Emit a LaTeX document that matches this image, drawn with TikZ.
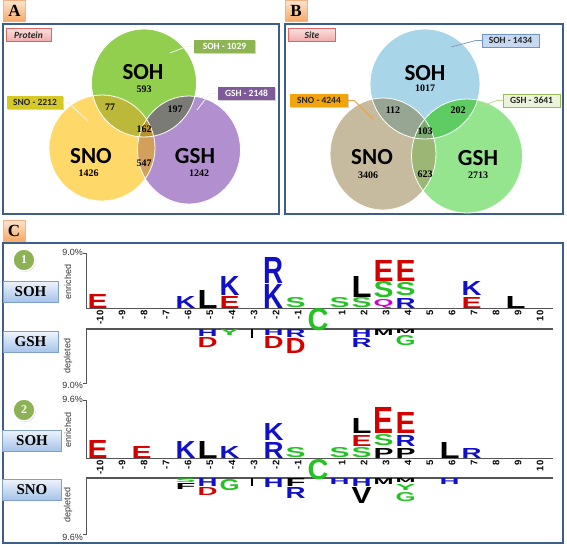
\documentclass[tikz,border=0pt]{standalone}
\usepackage{fontspec}
\usepackage{graphicx}
\setmainfont{Liberation Serif}
\setsansfont{Liberation Sans}
\newfontfamily\calfont{Carlito}
\usetikzlibrary{shadows}
% venn A
\definecolor{aS}{HTML}{92CF4E}
\definecolor{aN}{HTML}{FFD86A}
\definecolor{aG}{HTML}{B28FCE}
\definecolor{aSN}{HTML}{BCB93A}
\definecolor{aSG}{HTML}{7B7B76}
\definecolor{aNG}{HTML}{D2A05C}
\definecolor{aC}{HTML}{B8932C}
% venn B
\definecolor{bS}{HTML}{A9D5E8}
\definecolor{bN}{HTML}{C6BB9E}
\definecolor{bG}{HTML}{95E58F}
\definecolor{bSN}{HTML}{97A593}
\definecolor{bSG}{HTML}{5ECB63}
\definecolor{bNG}{HTML}{9CB676}
\definecolor{bC}{HTML}{7CAA6E}
% label boxes
\definecolor{aSl}{HTML}{8DB553}
\definecolor{aNl}{HTML}{D6C825}
\definecolor{aGl}{HTML}{7E5A9B}
\definecolor{bSl}{HTML}{C6D9F1}
\definecolor{bSd}{HTML}{6F94C6}
\definecolor{bNl}{HTML}{F2A40C}
\definecolor{bGl}{HTML}{EBF3DA}
\definecolor{bGd}{HTML}{9BBB59}
\definecolor{bSline}{HTML}{7F9FC0}
\definecolor{bNline}{HTML}{E8A040}
\definecolor{bGline}{HTML}{C0D890}
\definecolor{dk}{HTML}{262626}
\definecolor{pinkT}{HTML}{FAE0E0}
\definecolor{pinkB}{HTML}{F2AAAA}
\definecolor{pinkD}{HTML}{E06666}
% frames, labels
\definecolor{fr}{HTML}{3B5E8C}
\definecolor{plT}{HTML}{FDE5CF}
\definecolor{plB}{HTML}{F6A865}
\definecolor{plD}{HTML}{F4B183}
\definecolor{btT}{HTML}{EEF4FC}
\definecolor{btB}{HTML}{A6C3E8}
\definecolor{btD}{HTML}{7F9FCF}
\definecolor{bgr}{HTML}{8DB255}
\definecolor{axc}{HTML}{333333}
\definecolor{axl}{HTML}{555555}
% logo letters
\definecolor{lgR}{HTML}{D40000}
\definecolor{lgB}{HTML}{1010C8}
\definecolor{lgG}{HTML}{22C322}
\definecolor{lgK}{HTML}{000000}
\definecolor{lgM}{HTML}{D000D0}
\begin{document}
\begin{tikzpicture}[x=1pt,y=-1pt,
  frame/.style={draw=fr,line width=1.6pt},
  plabel/.style={draw=plD,line width=0.6pt,top color=plT,bottom color=plB,minimum width=22pt,minimum height=21pt,inner sep=0pt,font=\bfseries\fontsize{17}{17}\selectfont},
  vbig/.style={inner sep=0pt,font=\calfont\bfseries\fontsize{23}{23}\selectfont},
  vnum/.style={inner sep=0pt,font=\bfseries\fontsize{10}{10}\selectfont},
  vl/.style={minimum height=13pt,inner sep=0pt,font=\calfont\bfseries\fontsize{9.5}{9.5}\selectfont,drop shadow={shadow xshift=0.8pt,shadow yshift=-0.8pt,opacity=0.35}},
  pinkbox/.style={vl,draw=pinkD,line width=0.6pt,top color=pinkT,bottom color=pinkB,text=dk},
  conA/.style={draw=white!90!gray,line width=0.8pt},
  badge/.style={circle,fill=bgr,draw=white,line width=1.5pt,minimum size=22pt,inner sep=0pt,text=white,font=\bfseries\fontsize{12}{12}\selectfont,drop shadow={shadow xshift=0.8pt,shadow yshift=-1pt,opacity=0.4}},
  btn/.style={draw=btD,line width=0.6pt,top color=btT,bottom color=btB,minimum height=21pt,inner sep=0pt,font=\bfseries\fontsize{15}{15}\selectfont,drop shadow={shadow xshift=0.8pt,shadow yshift=-0.8pt,opacity=0.3}},
  axt/.style={inner sep=0pt,text=axc,font=\sffamily\fontsize{9}{9}\selectfont},
  numt/.style={inner sep=0pt,text=black,font=\sffamily\bfseries\fontsize{9.5}{9.5}\selectfont},
  axline/.style={draw=axl,line width=1.2pt},
  brk/.style={draw=axl,line width=0.8pt},
  lgl/.style={inner sep=0pt,outer sep=0pt,font=\sffamily\bfseries}]
\useasboundingbox[fill=white] (0,0) rectangle (567,547);

% panel labels
\node[plabel] (labA) at (14.5,11) {A};
\node[plabel] (labB) at (296,11) {B};
\node[plabel] (labC) at (14,230.5) {C};

% frames
\draw[frame] (3,24) rectangle (279,214);
\draw[frame] (285,24) rectangle (563,214);
\draw[frame] (3,243) rectangle (563,543);

% ---------------- Venn A
\fill[aS] (144,83) ellipse[x radius=52.5pt,y radius=54pt];
\fill[aN] (102,148) ellipse[x radius=53pt,y radius=53pt];
\fill[aG] (189,150) ellipse[x radius=51.5pt,y radius=54pt];
\begin{scope}
  \clip (144,83) ellipse[x radius=52.5pt,y radius=54pt];
  \fill[aSN] (102,148) ellipse[x radius=53pt,y radius=53pt];
  \fill[aSG] (189,150) ellipse[x radius=51.5pt,y radius=54pt];
\end{scope}
\begin{scope}
  \clip (102,148) ellipse[x radius=53pt,y radius=53pt];
  \fill[aNG] (189,150) ellipse[x radius=51.5pt,y radius=54pt];
\end{scope}
\begin{scope}
  \clip (144,83) ellipse[x radius=52.5pt,y radius=54pt];
  \clip (102,148) ellipse[x radius=53pt,y radius=53pt];
  \fill[aC] (189,150) ellipse[x radius=51.5pt,y radius=54pt];
\end{scope}
\draw[white,line width=0.8pt] (144,83) ellipse[x radius=52.5pt,y radius=54pt];
\draw[white,line width=0.8pt] (102,148) ellipse[x radius=53pt,y radius=53pt];
\draw[white,line width=0.8pt] (189,150) ellipse[x radius=51.5pt,y radius=54pt];

\node[vbig] (aSOH) at (143,72.5) {SOH};
\node[vnum] (aSOHn) at (144,89) {593};
\node[vbig] (aSNO) at (91,156) {SNO};
\node[vnum] (aSNOn) at (88.5,173) {1426};
\node[vbig] (aGSH) at (195,156) {GSH};
\node[vnum] (aGSHn) at (199,173) {1242};
\node[vnum] (aSN) at (110,107.5) {77};
\node[vnum] (aSG) at (175,109.5) {197};
\node[vnum] (aC) at (144,129) {162};
\node[vnum] (aNG) at (144,163.5) {547};

\node[pinkbox,minimum width=45pt] (aProt) at (28.5,35) {\itshape Protein};
\node[vl,fill=aSl,text=white,minimum width=61pt] (aSOHl) at (224.5,46.5) {SOH - 1029};
\node[vl,fill=aNl,text=dk,minimum width=56pt] (aSNOl) at (35,102.5) {SNO - 2212};
\node[vl,fill=aGl,text=white,minimum width=57pt] (aGSHl) at (246.5,93.5) {GSH - 2148};
\coordinate (aSOHp) at (170,53);
\coordinate (aSNOp) at (88,121);
\coordinate (aGSHp) at (197,110);
\draw[conA] (aSOHl.west) -- ++(-7,0) -- (aSOHp);
\draw[conA] (aSNOl.east) -- ++(5,0) -- (aSNOp);
\draw[conA] (aGSHl.west) -- ++(-8,0) -- (aGSHp);

% ---------------- Venn B
\fill[bS] (425,84) ellipse[x radius=55pt,y radius=55pt];
\fill[bN] (383,154) ellipse[x radius=53pt,y radius=56pt];
\fill[bG] (467,156) ellipse[x radius=55.5pt,y radius=57pt];
\begin{scope}
  \clip (425,84) ellipse[x radius=55pt,y radius=55pt];
  \fill[bSN] (383,154) ellipse[x radius=53pt,y radius=56pt];
  \fill[bSG] (467,156) ellipse[x radius=55.5pt,y radius=57pt];
\end{scope}
\begin{scope}
  \clip (383,154) ellipse[x radius=53pt,y radius=56pt];
  \fill[bNG] (467,156) ellipse[x radius=55.5pt,y radius=57pt];
\end{scope}
\begin{scope}
  \clip (425,84) ellipse[x radius=55pt,y radius=55pt];
  \clip (383,154) ellipse[x radius=53pt,y radius=56pt];
  \fill[bC] (467,156) ellipse[x radius=55.5pt,y radius=57pt];
\end{scope}
\draw[white,line width=0.8pt] (425,84) ellipse[x radius=55pt,y radius=55pt];
\draw[white,line width=0.8pt] (383,154) ellipse[x radius=53pt,y radius=56pt];
\draw[white,line width=0.8pt] (467,156) ellipse[x radius=55.5pt,y radius=57pt];

\node[vbig] (bSOH) at (425,73) {SOH};
\node[vnum] (bSOHn) at (425,88.5) {1017};
\node[vbig] (bSNO) at (372,157) {SNO};
\node[vnum] (bSNOn) at (368,175) {3406};
\node[vbig] (bGSH) at (478,158) {GSH};
\node[vnum] (bGSHn) at (478,175) {2713};
\node[vnum] (bSN) at (393,110.5) {112};
\node[vnum] (bSG) at (458,110.5) {202};
\node[vnum] (bC) at (425,131) {103};
\node[vnum] (bNG) at (425,174) {623};

\node[pinkbox,minimum width=47pt] (bSite) at (312,35) {\itshape Site};
\node[vl,fill=bSl,draw=bSd,line width=0.5pt,text=dk,minimum width=57pt] (bSOHl) at (510.5,40.5) {SOH - 1434};
\node[vl,fill=bNl,text=dk,minimum width=58pt] (bSNOl) at (319,100.5) {SNO - 4244};
\node[vl,fill=bGl,draw=bGd,line width=0.5pt,text=dk,minimum width=57pt] (bGSHl) at (531.5,100.5) {GSH - 3641};
\coordinate (bSOHp) at (451,47);
\coordinate (bSNOp) at (373,119);
\coordinate (bGSHp) at (482,106);
\draw[draw=bSline,line width=0.8pt] (bSOHl.west) -- ++(-6,0) -- (bSOHp);
\draw[draw=bNline,line width=0.8pt] (bSNOl.east) -- ++(6,0) -- (bSNOp);
\draw[draw=bGline,line width=0.8pt] (bGSHl.west) -- ++(-6,0) -- (bGSHp);

% ---------------- Panel C
\node[badge] (bad1) at (24,260) {1};
\node[badge] (bad2) at (24,410) {2};
\node[btn,minimum width=55pt] (btn1) at (30.5,291.5) {SOH};
\node[btn,minimum width=55pt] (btn2) at (30.5,342) {GSH};
\node[btn,minimum width=59pt] (btn3) at (32,440.5) {SOH};
\node[btn,minimum width=59pt] (btn4) at (32,489.5) {SNO};

% axes logo 1
\node[axt,anchor=east] (p1t) at (83,252) {9.0\%};
\node[axt,anchor=east] (p1b) at (83,385.5) {9.0\%};
\node[axt,rotate=90] (en1) at (68,282) {enriched};
\node[axt,rotate=90] (de1) at (68,356) {depleted};
\draw[brk] (83,253) -- (86,253) -- (86,308);
\draw[brk] (86,329) -- (86,383) -- (83,383);
\draw[axline] (86,308.5) -- (553,308.5);
\draw[axline] (86,329) -- (553,329);
% axes logo 2
\node[axt,anchor=east] (p2t) at (83,399) {9.6\%};
\node[axt,anchor=east] (p2b) at (83,537) {9.6\%};
\node[axt,rotate=90] (en2) at (68,430) {enriched};
\node[axt,rotate=90] (de2) at (68,505) {depleted};
\draw[brk] (83,400) -- (86,400) -- (86,458);
\draw[brk] (86,478) -- (86,534) -- (83,534);
\draw[axline] (86,458.5) -- (553,458.5);
\draw[axline] (86,478) -- (553,478);

% position numbers
\foreach \pp in {-10,-9,...,-1,1,2,...,10}{
  \node[numt,rotate=90,anchor=east] (na\pp) at ({320+22*(\pp)},310.5) {\pp};
  \node[numt,rotate=90,anchor=east] (nb\pp) at ({320+22*(\pp)},460.5) {\pp};
}

% logo 1 enriched (pos/bottom/top/color/letter)
\foreach \pp/\ya/\yb/\cc/\ltr in {-10/308/294/lgR/E,-6/308/296/lgB/K,-5/308/290/lgK/L,
  -4/308/296/lgR/E,-4/295/276/lgB/K,-2/308/284/lgB/K,-2/283/257/lgB/R,-1/308/298/lgG/S,
  1/308/298/lgG/S,2/308/298/lgG/S,2/297/276/lgK/L,3/308/301/lgM/Q,3/298/282/lgG/S,
  3/281/260/lgR/E,4/308/298/lgB/R,4/296/283/lgG/S,4/281/260/lgR/E,7/308/297/lgR/E,
  7/295/281/lgB/K,9/308/296/lgK/L}{
  \pgfmathsetmacro\hh{\ya-\yb}
  \node[lgl,anchor=south,text=\cc] (ua\pp\ltr\ya) at ({317.5+22*(\pp)},\ya) {\resizebox{20pt}{\hh pt}{\ltr}};
}
% logo 1 depleted (pos/top/bottom/color/letter)
\foreach \pp/\ya/\yb/\cc/\ltr in {-5/329/336/lgB/H,-5/337/347/lgR/D,-4/329/335/lgG/Y,
  -2/329/335/lgB/H,-2/336/348/lgR/D,-1/329/337/lgB/R,-1/338/353/lgR/D,2/329/337/lgB/H,
  2/338/347/lgB/R,3/329/335/lgK/M,4/329/333/lgK/M,4/335/345/lgG/G}{
  \pgfmathsetmacro\hh{\yb-\ya}
  \node[lgl,anchor=north,text=\cc] (da\pp\ltr\ya) at ({317.5+22*(\pp)},\ya) {\resizebox{20pt}{\hh pt}{\ltr}};
}
\node[lgl,anchor=north,text=lgK] (daI) at (252,329) {\resizebox{4pt}{9pt}{I}};
\node[lgl,anchor=north,text=lgG] (caC) at (318,308) {\resizebox{21pt}{22pt}{C}};

% logo 2 enriched
\foreach \pp/\ya/\yb/\cc/\ltr in {-10/458/440/lgR/E,-8/458/446/lgR/E,-6/458/441/lgB/K,
  -5/458/441/lgK/L,-4/458/446/lgB/K,-2/458/442/lgB/R,-2/440/423/lgB/K,-1/458/448/lgG/S,
  1/458/448/lgG/S,2/458/448/lgG/S,2/446/435/lgR/E,2/433/418/lgK/L,3/458/448/lgK/P,
  3/446/435/lgG/S,3/433/407/lgR/E,4/458/448/lgK/P,4/446/435/lgB/R,4/433/412/lgR/E,
  6/458/442/lgK/L,7/458/448/lgB/R}{
  \pgfmathsetmacro\hh{\ya-\yb}
  \node[lgl,anchor=south,text=\cc] (ub\pp\ltr\ya) at ({317.5+22*(\pp)},\ya) {\resizebox{20pt}{\hh pt}{\ltr}};
}
% logo 2 depleted
\foreach \pp/\ya/\yb/\cc/\ltr in {-6/478/482/lgG/S,-6/483/489/lgK/F,-5/478/486/lgB/H,
  -5/487/495/lgR/D,-4/479/490/lgG/G,-2/478/487/lgB/H,-1/478/486/lgK/F,-1/487/498/lgB/R,
  1/478/484/lgB/H,2/478/486/lgB/H,2/487/503/lgK/V,3/478/484/lgK/M,4/478/482/lgK/M,
  4/484/490/lgG/Y,4/492/501/lgG/G,6/478/484/lgB/H}{
  \pgfmathsetmacro\hh{\yb-\ya}
  \node[lgl,anchor=north,text=\cc] (db\pp\ltr\ya) at ({317.5+22*(\pp)},\ya) {\resizebox{20pt}{\hh pt}{\ltr}};
}
\node[lgl,anchor=north,text=lgK] (dbI) at (252,478) {\resizebox{4pt}{8pt}{I}};
\node[lgl,anchor=north,text=lgG] (cbC) at (318,459) {\resizebox{21pt}{20pt}{C}};
\end{tikzpicture}
\end{document}
